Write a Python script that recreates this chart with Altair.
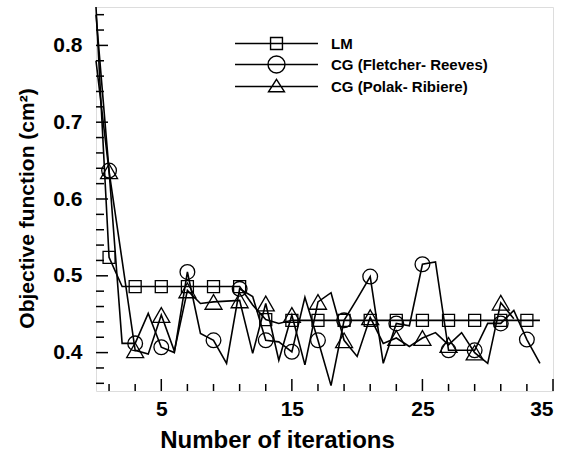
import altair as alt
import pandas as pd

# ---------------- data ----------------
iterations = list(range(35))
series_names = ["LM", "CG (Fletcher- Reeves)", "CG (Polak- Ribiere)"]

lm = [0.850, 0.524, 0.486, 0.486, 0.486, 0.486, 0.486, 0.486, 0.486, 0.486,
      0.486, 0.486, 0.462, 0.443, 0.438, 0.442, 0.442, 0.442, 0.442, 0.442,
      0.442, 0.442, 0.442, 0.442, 0.442, 0.442, 0.442, 0.442, 0.442, 0.442,
      0.442, 0.442, 0.442, 0.442, 0.442]
fr = [0.840, 0.637, 0.412, 0.412, 0.451, 0.407, 0.400, 0.505, 0.425, 0.416,
      0.386, 0.483, 0.473, 0.416, 0.414, 0.401, 0.472, 0.416, 0.357, 0.442,
      0.470, 0.499, 0.386, 0.438, 0.435, 0.515, 0.518, 0.403, 0.403, 0.403,
      0.438, 0.438, 0.455, 0.417, 0.386]
pr = [0.780, 0.636, 0.520, 0.403, 0.398, 0.449, 0.402, 0.481, 0.464, 0.466,
      0.467, 0.468, 0.399, 0.464, 0.390, 0.449, 0.384, 0.466, 0.478, 0.416,
      0.395, 0.446, 0.412, 0.419, 0.408, 0.419, 0.426, 0.410, 0.426, 0.400,
      0.386, 0.465, 0.444, None, None]

x_major = [5, 15, 25, 35]
x_minor = [1, 3, 7, 9, 11, 13, 17, 19, 21, 23, 27, 29, 31, 33]
y_major = [0.4, 0.5, 0.6, 0.7, 0.8]
y_minor = [0.36, 0.38, 0.42, 0.44, 0.46, 0.48, 0.52, 0.54, 0.56, 0.58,
           0.62, 0.64, 0.66, 0.68, 0.72, 0.74, 0.76, 0.78, 0.82, 0.84]

# ---------------- tables ----------------
rows = []
for name, vals in zip(series_names, [lm, fr, pr]):
    for i, v in zip(iterations, vals):
        if v is not None:
            rows.append({"iter": i, "value": v, "series": name})
df = pd.DataFrame(rows)

FONT = "Liberation Sans"
W, H = 457, 384
x_scale = alt.Scale(domain=[0, 35], nice=False, zero=False)
y_scale = alt.Scale(domain=[0.35, 0.85], nice=False, zero=False)

x_axis = alt.Axis(values=x_major, ticks=False, domain=False, grid=False,
                  labelFont=FONT, labelFontSize=21, labelFontWeight="bold",
                  labelColor="black", labelPadding=7,
                  title="Number of iterations", titleFont=FONT,
                  titleFontSize=24, titleFontWeight="bold",
                  titleColor="black", titleX=181, titleY=37,
                  titleAlign="center", titleBaseline="top")
y_axis = alt.Axis(values=y_major, format=".1f", ticks=False, domain=False,
                  grid=False, labelFont=FONT, labelFontSize=21,
                  labelFontWeight="bold", labelColor="black",
                  labelPadding=14,
                  title="Objective function (cm²)", titleFont=FONT,
                  titleFontSize=21, titleFontWeight="bold",
                  titleColor="black", titleX=-59, titleY=201,
                  titleAlign="center", titleBaseline="bottom", titleAngle=270)

shapes_data = ["square", "circle", "triangle-up"]
sizes_data = [144, 289, 256]

# legend symbols: a line with the marker in the middle (unit = 8.5 px)
legend_paths = [
    "M-4.88,0H4.88M-0.7,-0.7H0.7V0.7H-0.7Z",
    "M-4.88,0H4.88M-1,0A1,1,0,1,0,1,0A1,1,0,1,0,-1,0Z",
    "M-4.88,0H4.88M0,-0.85L0.94,0.62L-0.94,0.62Z",
]

base = alt.Chart(df)
X = alt.X("iter:Q", scale=x_scale, axis=x_axis)
Y = alt.Y("value:Q", scale=y_scale, axis=y_axis)

lines = base.mark_line(color="black", strokeWidth=1.6).encode(
    x=X, y=Y, detail="series:N")

points = base.transform_filter("datum.iter % 2 == 1").mark_point(
    filled=False, color="black", strokeWidth=1.3, opacity=1
).encode(
    x=X, y=Y,
    shape=alt.Shape("series:N", scale=alt.Scale(domain=series_names, range=shapes_data),
                    legend=None),
    size=alt.Size("series:N", scale=alt.Scale(domain=series_names, range=sizes_data),
                  legend=None),
)

legend_layer = base.transform_filter("datum.iter == 1").mark_point(
    filled=False, color="black", strokeWidth=1.4, opacity=0, size=289
).encode(
    x=X, y=Y,
    shape=alt.Shape("series:N",
                    scale=alt.Scale(domain=series_names, range=legend_paths),
                    legend=alt.Legend(title=None, orient="none", legendX=171,
                                      legendY=27, symbolOpacity=1, symbolSize=289,
                                      symbolStrokeColor="black",
                                      symbolFillColor="transparent",
                                      symbolStrokeWidth=1.4,
                                      labelFont=FONT, labelFontSize=15,
                                      labelFontWeight="bold", labelColor="black",
                                      labelOffset=45, rowPadding=0, padding=0)),
)

# inward ticks
xt_major = alt.Chart(pd.DataFrame({"iter": x_major})).mark_rule(
    color="black", strokeWidth=1.5).encode(
    x=X, y=alt.value(H), y2=alt.value(H - 12))
xt_minor = alt.Chart(pd.DataFrame({"iter": x_minor})).mark_rule(
    color="black", strokeWidth=1.5).encode(
    x=X, y=alt.value(H), y2=alt.value(H - 7))
yt_major = alt.Chart(pd.DataFrame({"value": y_major})).mark_rule(
    color="black", strokeWidth=1.5).encode(
    y=Y, x=alt.value(0), x2=alt.value(12))
yt_minor = alt.Chart(pd.DataFrame({"value": y_minor})).mark_rule(
    color="black", strokeWidth=1.5).encode(
    y=Y, x=alt.value(0), x2=alt.value(8))

chart = alt.layer(
    lines, points, legend_layer, xt_major, xt_minor, yt_major, yt_minor
).resolve_scale(shape="independent", size="independent").properties(
    width=W, height=H,
    padding={"left": 96, "top": 7, "right": 24, "bottom": 62},
    autosize=alt.AutoSizeParams(type="none"),
).configure_view(stroke="black", strokeWidth=2).configure(background="white")

chart.save("out.html", embed_options={"renderer": "svg", "actions": False})
